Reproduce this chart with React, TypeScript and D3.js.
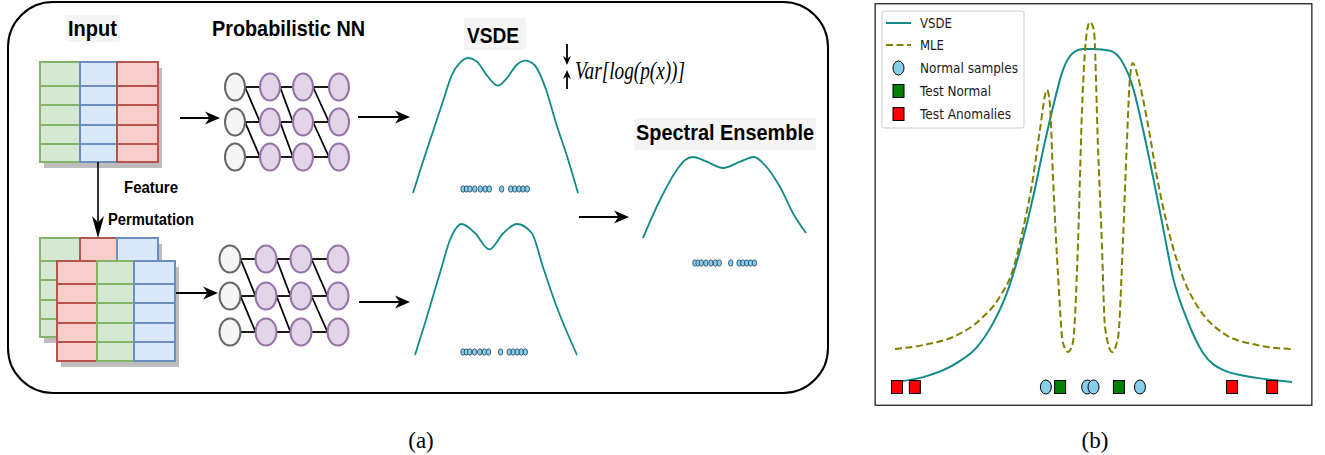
import React from "react";
import * as d3 from "d3";

// ---- Panel (b): density curves over a 1-D feature ----
const vsdeX = [-5.0, -4.29, -3.44, -2.93, -2.53, -2.18, -1.85, -1.52, -1.27, -1.02, -0.77, -0.52, -0.26, 0, 0.42, 0.74, 0.99, 1.25, 1.5, 1.75, 2.0, 2.36, 2.76, 3.26, 4.12, 5.0];
const vsdeY = [0.014, 0.027, 0.066, 0.11, 0.175, 0.258, 0.375, 0.521, 0.649, 0.767, 0.868, 0.915, 0.926, 0.926, 0.921, 0.888, 0.822, 0.704, 0.575, 0.438, 0.301, 0.184, 0.093, 0.047, 0.025, 0.014];

const mleX = [-5.0, -4.29, -3.44, -2.86, -2.36, -2.03, -1.78, -1.52, -1.35, -1.17, -1.1, -1.02, -0.89, -0.77, -0.64, -0.52, -0.39, -0.29, -0.16, -0.09, 0.01, 0.11, 0.21, 0.29, 0.47, 0.62, 0.74, 0.84, 0.92, 0.99, 1.12, 1.35, 1.6, 1.93, 2.25, 2.68, 3.26, 4.12, 5.0];
const mleY = [0.104, 0.115, 0.142, 0.184, 0.247, 0.321, 0.43, 0.575, 0.704, 0.814, 0.778, 0.575, 0.301, 0.121, 0.096, 0.121, 0.395, 0.759, 0.978, 1.0, 0.978, 0.668, 0.395, 0.164, 0.096, 0.137, 0.395, 0.668, 0.849, 0.888, 0.849, 0.732, 0.575, 0.411, 0.301, 0.211, 0.148, 0.115, 0.104];

const normalSamples = [-1.2, -0.16, 0.0, 1.17];
const testNormal = [-0.84, 0.64];
const testAnomalies = [-4.95, -4.5, 3.49, 4.5];

const legendLabels = ["VSDE", "MLE", "Normal samples", "Test Normal", "Test Anomalies"];

// ---- Panel (a): sketch densities (normalised 0..1 coordinates) ----
const vsdeTopX = [0, 0.063, 0.124, 0.184, 0.235, 0.285, 0.335, 0.386, 0.446, 0.513, 0.568, 0.628, 0.68, 0.736, 0.807, 0.867, 0.928, 1];
const vsdeTopY = [0, 0.242, 0.467, 0.689, 0.874, 0.965, 1.0, 0.975, 0.874, 0.795, 0.849, 0.948, 0.98, 0.948, 0.763, 0.516, 0.294, 0];

const vsdeBotX = [0, 0.062, 0.154, 0.216, 0.288, 0.37, 0.459, 0.546, 0.629, 0.72, 0.79, 0.875, 1];
const vsdeBotY = [0, 0.244, 0.626, 0.878, 1.0, 0.931, 0.807, 0.931, 1.0, 0.931, 0.672, 0.366, 0];

const ensembleX = [0, 0.104, 0.207, 0.258, 0.307, 0.391, 0.491, 0.595, 0.681, 0.748, 0.84, 0.922, 1];
const ensembleY = [0, 0.469, 0.84, 0.963, 1.0, 0.942, 0.864, 0.942, 1.0, 0.9, 0.632, 0.3, 0.062];

// training samples drawn beneath each sketch density
const stripX = [0.03, 0.08, 0.13, 0.2, 0.28, 0.35, 0.41, 0.59, 0.72, 0.78, 0.84, 0.9, 0.96];

const TEAL = "#138a8a";
const OLIVE = "#808000";
const GREEN = { fill: "#d5e8d4", stroke: "#82b366" };
const BLUE = { fill: "#dae8fc", stroke: "#6c8ebf" };
const RED = { fill: "#f8cecc", stroke: "#b85450" };

type Col = { fill: string; stroke: string };

function Table({ x, y, cols, widths, rows }: { x: number; y: number; cols: Col[]; widths: number[]; rows: number[] }) {
  const W = d3.sum(widths);
  const H = d3.sum(rows);
  const xs = d3.cumsum([0, ...widths]);
  const ys = d3.cumsum([0, ...rows]);
  return (
    <g>
      <rect x={x + 4} y={y + 6} width={W} height={H} fill="#bdbdbd" />
      {cols.map((c, i) =>
        rows.map((h, j) => (
          <rect key={`${i}-${j}`} x={x + xs[i]} y={y + ys[j]} width={widths[i]} height={h} fill={c.fill} stroke={c.stroke} strokeWidth={2} />
        ))
      )}
    </g>
  );
}

function Arrow({ x1, y1, x2, y2, head = 14, w = 12, sw = 2 }: { x1: number; y1: number; x2: number; y2: number; head?: number; w?: number; sw?: number }) {
  const dx = x2 - x1, dy = y2 - y1;
  const L = Math.hypot(dx, dy);
  const ux = dx / L, uy = dy / L;
  const px = -uy, py = ux;
  const bx = x2 - ux * head, by = y2 - uy * head;
  const nx = x2 - ux * head * 0.7, ny = y2 - uy * head * 0.7;
  const d = `M${x2},${y2} L${bx + px * w / 2},${by + py * w / 2} L${nx},${ny} L${bx - px * w / 2},${by - py * w / 2} Z`;
  return (
    <g>
      <line x1={x1} y1={y1} x2={nx} y2={ny} stroke="#000" strokeWidth={sw} />
      <path d={d} fill="#000" />
    </g>
  );
}

function NN({ cx, cy, rx, ry }: { cx: number[]; cy: number[]; rx: number; ry: number }) {
  const lines: React.ReactNode[] = [];
  for (let i = 0; i < cx.length - 1; i++) {
    for (let r = 0; r < cy.length; r++) {
      lines.push(<line key={`h${i}${r}`} x1={cx[i] + rx} y1={cy[r]} x2={cx[i + 1] - rx} y2={cy[r]} stroke="#000" strokeWidth={1.8} />);
      if (r < cy.length - 1)
        lines.push(<line key={`d${i}${r}`} x1={cx[i] + rx} y1={cy[r]} x2={cx[i + 1] - rx} y2={cy[r + 1]} stroke="#000" strokeWidth={1.8} />);
    }
  }
  return (
    <g>
      {lines}
      {cx.map((x, i) =>
        cy.map((y, r) => (
          <ellipse key={`n${i}${r}`} cx={x} cy={y} rx={rx} ry={ry}
            fill={i === 0 ? "#f5f5f5" : "#e1d5e7"} stroke={i === 0 ? "#666666" : "#9673a6"} strokeWidth={2} />
        ))
      )}
    </g>
  );
}

function MiniCurve({ xs, ys, x0, x1, y0, y1 }: { xs: number[]; ys: number[]; x0: number; x1: number; y0: number; y1: number }) {
  const sx = d3.scaleLinear().domain([0, 1]).range([x0, x1]);
  const sy = d3.scaleLinear().domain([0, 1]).range([y0, y1]);
  const line = d3.line<number>().x((_, i) => sx(xs[i])).y((d) => sy(d)).curve(d3.curveMonotoneX);
  return <path d={line(ys) || ""} fill="none" stroke={TEAL} strokeWidth={1.8} />;
}

function Strip({ x0, x1, y }: { x0: number; x1: number; y: number }) {
  const sx = d3.scaleLinear().domain([0, 1]).range([x0, x1]);
  return (
    <g>
      {stripX.map((v, i) => (
        <ellipse key={i} cx={sx(v)} cy={y} rx={2.2} ry={3.2} fill="#87ceeb" stroke="#22405a" strokeWidth={0.8} />
      ))}
    </g>
  );
}

const bold = { fontFamily: "'Liberation Sans', Arial, sans-serif", fontWeight: 700 as const };

function PanelA() {
  return (
    <g>
      <rect x={8} y={2} width={820} height={391} rx={45} ry={45} fill="#fff" stroke="#000" strokeWidth={2} />

      {/* titles */}
      <rect x={66} y={15} width={53} height={27} fill="#f5f5f5" />
      <text x={68} y={36} fontSize={22} textLength={49} lengthAdjust="spacingAndGlyphs" {...bold}>Input</text>
      <text x={212} y={36} fontSize={22} textLength={153} lengthAdjust="spacingAndGlyphs" {...bold}>Probabilistic NN</text>
      <rect x={464} y={18} width={62} height={32} fill="#f5f5f5" />
      <text x={467} y={43} fontSize={22} textLength={52} lengthAdjust="spacingAndGlyphs" {...bold}>VSDE</text>
      <rect x={634} y={118} width={182} height={32} fill="#f5f5f5" />
      <text x={636} y={140} fontSize={22} textLength={178} lengthAdjust="spacingAndGlyphs" {...bold}>Spectral Ensemble</text>
      <text x={124} y={193} fontSize={16} textLength={54} lengthAdjust="spacingAndGlyphs" {...bold}>Feature</text>
      <text x={108} y={225} fontSize={16} textLength={86} lengthAdjust="spacingAndGlyphs" {...bold}>Permutation</text>

      {/* input tables */}
      <Table x={40} y={62} cols={[GREEN, BLUE, RED]} widths={[40, 37, 41]} rows={[24, 19, 20, 19, 18]} />
      <Table x={40} y={238} cols={[GREEN, RED, BLUE]} widths={[40, 37, 41]} rows={[23, 19, 20, 19, 18]} />
      <Table x={57} y={261} cols={[RED, GREEN, BLUE]} widths={[40, 37, 41]} rows={[23, 19, 20, 19, 19]} />

      {/* networks */}
      <NN cx={[235, 270, 303, 339]} cy={[87, 122, 157]} rx={10} ry={13.5} />
      <NN cx={[230, 266, 301, 338]} cy={[259, 296, 332]} rx={10.5} ry={13.5} />

      {/* arrows */}
      <Arrow x1={98} y1={162} x2={98} y2={238} head={22} w={12} sw={1.6} />
      <Arrow x1={180} y1={118} x2={220} y2={118} head={15} w={13} />
      <Arrow x1={176} y1={293} x2={218} y2={293} head={15} w={13} />
      <Arrow x1={358} y1={117} x2={410} y2={117} head={15} w={13} />
      <Arrow x1={359} y1={302} x2={410} y2={302} head={15} w={13} />
      <Arrow x1={579} y1={217} x2={629} y2={217} head={15} w={13} />

      {/* variance marker */}
      <Arrow x1={567} y1={44} x2={567} y2={65} head={9} w={8} sw={1.8} />
      <Arrow x1={567} y1={89} x2={567} y2={70} head={9} w={8} sw={1.8} />
      <text x={575} y={79} fontSize={25} fontStyle="italic" fontFamily="'Liberation Serif', 'Times New Roman', serif"
        textLength={110} lengthAdjust="spacingAndGlyphs">Var[log(p(x))]</text>

      {/* densities */}
      <MiniCurve xs={vsdeTopX} ys={vsdeTopY} x0={413} x1={578} y0={193} y1={58} />
      <MiniCurve xs={vsdeBotX} ys={vsdeBotY} x0={415} x1={577} y0={355} y1={224} />
      <MiniCurve xs={ensembleX} ys={ensembleY} x0={643} x1={806} y0={238} y1={157} />
      <Strip x0={461} x1={530} y={189} />
      <Strip x0={461} x1={528} y={352} />
      <Strip x0={693} x1={757} y={263} />
    </g>
  );
}

function PanelB() {
  const x = d3.scaleLinear().domain([-5, 5]).range([895, 1292]);
  const y = d3.scaleLinear().domain([0, 1]).range([387, 22]);
  const vsdeLine = d3.line<number>().x((_, i) => x(vsdeX[i])).y((d) => y(d)).curve(d3.curveMonotoneX);
  const mleLine = d3.line<number>().x((_, i) => x(mleX[i])).y((d) => y(d)).curve(d3.curveMonotoneX);
  const fx0 = x(-5.5), fx1 = x(5.5), fy0 = y(1.05), fy1 = y(-0.05);
  const sq = (cx: number, cy: number, fill: string, key: string) => (
    <rect key={key} x={cx - 5.5} y={cy - 6.5} width={11} height={13} fill={fill} stroke="#000" strokeWidth={1} />
  );
  const circ = (cx: number, cy: number, key: string) => (
    <ellipse key={key} cx={cx} cy={cy} rx={5.5} ry={7} fill="#87ceeb" stroke="#000" strokeWidth={1} />
  );
  const legY = [23, 45, 68, 91, 114];
  const legW = [32, 24, 98, 71, 91];
  return (
    <g>
      <rect x={fx0} y={fy0} width={fx1 - fx0} height={fy1 - fy0} fill="#fff" stroke="#222" strokeWidth={1.3} />
      <path d={vsdeLine(vsdeY) || ""} fill="none" stroke={TEAL} strokeWidth={2} />
      <path d={mleLine(mleY) || ""} fill="none" stroke={OLIVE} strokeWidth={2} strokeDasharray="7,3.5" />
      {normalSamples.map((v, i) => circ(x(v), y(0), `c${i}`))}
      {testNormal.map((v, i) => sq(x(v), y(0), "#008000", `g${i}`))}
      {testAnomalies.map((v, i) => sq(x(v), y(0), "#ff0000", `r${i}`))}

      {/* legend */}
      <rect x={882} y={11} width={142} height={117} rx={2} fill="#fff" fillOpacity={0.8} stroke="#cccccc" strokeWidth={1} />
      <line x1={886} x2={911} y1={legY[0]} y2={legY[0]} stroke={TEAL} strokeWidth={2} />
      <line x1={886} x2={911} y1={legY[1]} y2={legY[1]} stroke={OLIVE} strokeWidth={2} strokeDasharray="7,3.5" />
      {circ(898.5, legY[2], "lc")}
      {sq(898.5, legY[3], "#008000", "lg")}
      {sq(898.5, legY[4], "#ff0000", "lr")}
      {legendLabels.map((t, i) => (
        <text key={t} x={920} y={legY[i] + 4.8} fontSize={13.5} fill="#1a1a1a" fontFamily="'DejaVu Sans', sans-serif"
          textLength={legW[i]} lengthAdjust="spacingAndGlyphs">{t}</text>
      ))}
    </g>
  );
}

export default function App() {
  return (
    <svg width={1325} height={455} viewBox="0 0 1325 455" style={{ position: "fixed", left: 0, top: 0, background: "#fff" }}>
      <rect width={1325} height={455} fill="#fff" />
      <PanelA />
      <PanelB />
      <text x={421} y={448} fontSize={23} textAnchor="middle" fontFamily="'Liberation Serif', 'Times New Roman', serif">(a)</text>
      <text x={1095} y={448} fontSize={23} textAnchor="middle" fontFamily="'Liberation Serif', 'Times New Roman', serif">(b)</text>
    </svg>
  );
}
